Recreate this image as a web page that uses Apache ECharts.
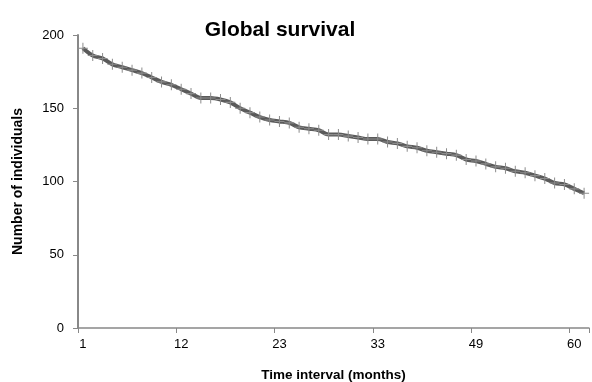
<!DOCTYPE html>
<html>
<head>
<meta charset="utf-8">
<script src="https://cdn.jsdelivr.net/npm/echarts@6/dist/echarts.min.js"></script>
<style>
html,body{margin:0;padding:0;background:#fff;}
#chart{width:592px;height:382px;}
</style>
</head>
<body>
<div id="chart"></div>
<script>
// Time interval categories (months)
const months = [1,2,3,4,5,6,7,8,10,11,12,
  13,14,15,16,17,18,19,20,22,23,
  24,25,26,27,28,29,30,31,32,33,
  34,36,37,38,40,41,43,45,47,49,
  50,51,52,53,54,55,56,57,58,60,
  61];
// Number of individuals surviving
const individuals = [191,186,184,180,178,176,174,171,168,166,163,
  160,157,157,156,154,150,147,144,142,141,
  140,137,136,135,132,132,131,130,129,129,
  127,126,124,123,121,120,119,118,115,114,
  112,110,109,107,106,104,102,99,98,95,
  92];
const yTicks = [0,50,100,150,200];

const FONT = '"Liberation Sans", Arial, sans-serif';
const chart = echarts.init(document.getElementById('chart'));
chart.setOption({
  animation:false,
  backgroundColor:'#ffffff',
  title:{
    text:'Global survival',
    left:275, top:15, textAlign:'center',
    textStyle:{fontFamily:FONT,fontSize:21,fontWeight:'bold',color:'#000'}
  },
  grid:{left:78,right:3,top:35,bottom:54,containLabel:false,outerBoundsMode:'none'},
  xAxis:{
    type:'category',
    data:months.map(String),
    boundaryGap:true,
    name:'Time interval (months)',
    nameLocation:'middle',
    nameGap:40,
    nameTextStyle:{fontFamily:FONT,fontSize:13.5,fontWeight:'bold',color:'#000'},
    axisLine:{lineStyle:{color:'#888',width:1.5}},
    axisTick:{show:true,interval:9,length:5,lineStyle:{color:'#888'}},
    axisLabel:{interval:9,fontFamily:FONT,fontSize:13,color:'#000',margin:10},
    splitLine:{show:false}
  },
  yAxis:{
    type:'value',
    min:yTicks[0], max:yTicks[yTicks.length-1], interval:50,
    name:'Number of individuals',
    nameLocation:'middle',
    nameGap:53,
    nameRotate:90,
    nameTextStyle:{fontFamily:FONT,fontSize:14,fontWeight:'bold',color:'#000'},
    axisLine:{show:true,lineStyle:{color:'#888',width:2}},
    axisTick:{show:true,length:5,lineStyle:{color:'#888'}},
    axisLabel:{fontFamily:FONT,fontSize:13,color:'#000',margin:14},
    splitLine:{show:false}
  },
  series:[{
    type:'line',
    data:individuals,
    smooth:0.3,
    symbol:'path://M4.5,0h1v10h-1zM0,4.5h10v1h-10z',
    symbolSize:[10,11],
    showAllSymbol:true,
    itemStyle:{color:'#8c8c8c'},
    lineStyle:{color:'#5a5a5a',width:4}
  }]
});
</script>
</body>
</html>
